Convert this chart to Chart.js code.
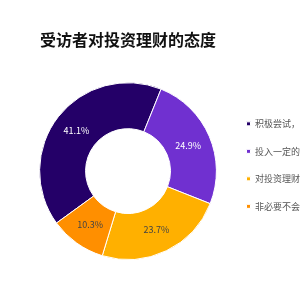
<!DOCTYPE html>
<html>
<head>
<meta charset="utf-8">
<script src="https://cdn.jsdelivr.net/npm/chart.js@4"></script>
<style>
  html, body { margin: 0; padding: 0; background: #fff; }
  #box { width: 300px; height: 300px; }
</style>
</head>
<body>
<div id="box"><canvas id="c"></canvas></div>
<script>
'use strict';

var titleText = '受访者对投资理财的态度';
var categories = ['积极尝试，', '投入一定的', '对投资理财', '非必要不会'];
var shares = [41.1, 24.9, 23.7, 10.3];
var sliceColors = ['#240068', '#7030d0', '#ffb000', '#ff8f00'];
var labelColors = ['#ffffff', '#ffffff', '#444444', '#444444'];

var CJK = "'Noto Sans CJK SC', 'Noto Sans', sans-serif";

// percentage text in the middle of each ring slice
var sliceLabels = {
	id: 'sliceLabels',
	afterDatasetsDraw: function (chart) {
		var ctx = chart.ctx;
		var meta = chart.getDatasetMeta(0);
		ctx.save();
		ctx.font = '9px ' + CJK;
		ctx.textAlign = 'center';
		ctx.textBaseline = 'middle';
		meta.data.forEach(function (arc, i) {
			var p = arc.tooltipPosition();
			ctx.fillStyle = labelColors[i];
			ctx.fillText(shares[i].toFixed(1) + '%', p.x, p.y);
		});
		ctx.restore();
	}
};

new Chart(document.getElementById('c'), {
	type: 'doughnut',
	data: {
		labels: categories,
		datasets: [{
			data: shares,
			backgroundColor: sliceColors,
			borderColor: '#ffffff',
			borderWidth: 1
		}]
	},
	options: {
		responsive: true,
		maintainAspectRatio: false,
		animation: false,
		cutout: '48%',
		rotation: -126,
		layout: { padding: { left: 28, right: 0, top: 0, bottom: 40 } },
		plugins: {
			title: {
				display: true,
				text: titleText,
				fullSize: false,
				color: '#111111',
				font: { family: CJK, size: 16, weight: 'bold', lineHeight: 1.2 },
				padding: { top: 30, bottom: 33 }
			},
			legend: {
				position: 'right',
				fullSize: false,
				maxWidth: 72,
				// empty title with negative padding nudges the items up a bit
				title: { display: true, text: '', font: { size: 1, lineHeight: 1 }, padding: { top: -13, bottom: 0 } },
				labels: {
					boxWidth: 4,
					boxHeight: 4,
					padding: 18.5,
					color: '#555555',
					font: { family: CJK, size: 9 }
				}
			},
			tooltip: { enabled: false }
		}
	},
	plugins: [sliceLabels]
});
</script>
</body>
</html>
